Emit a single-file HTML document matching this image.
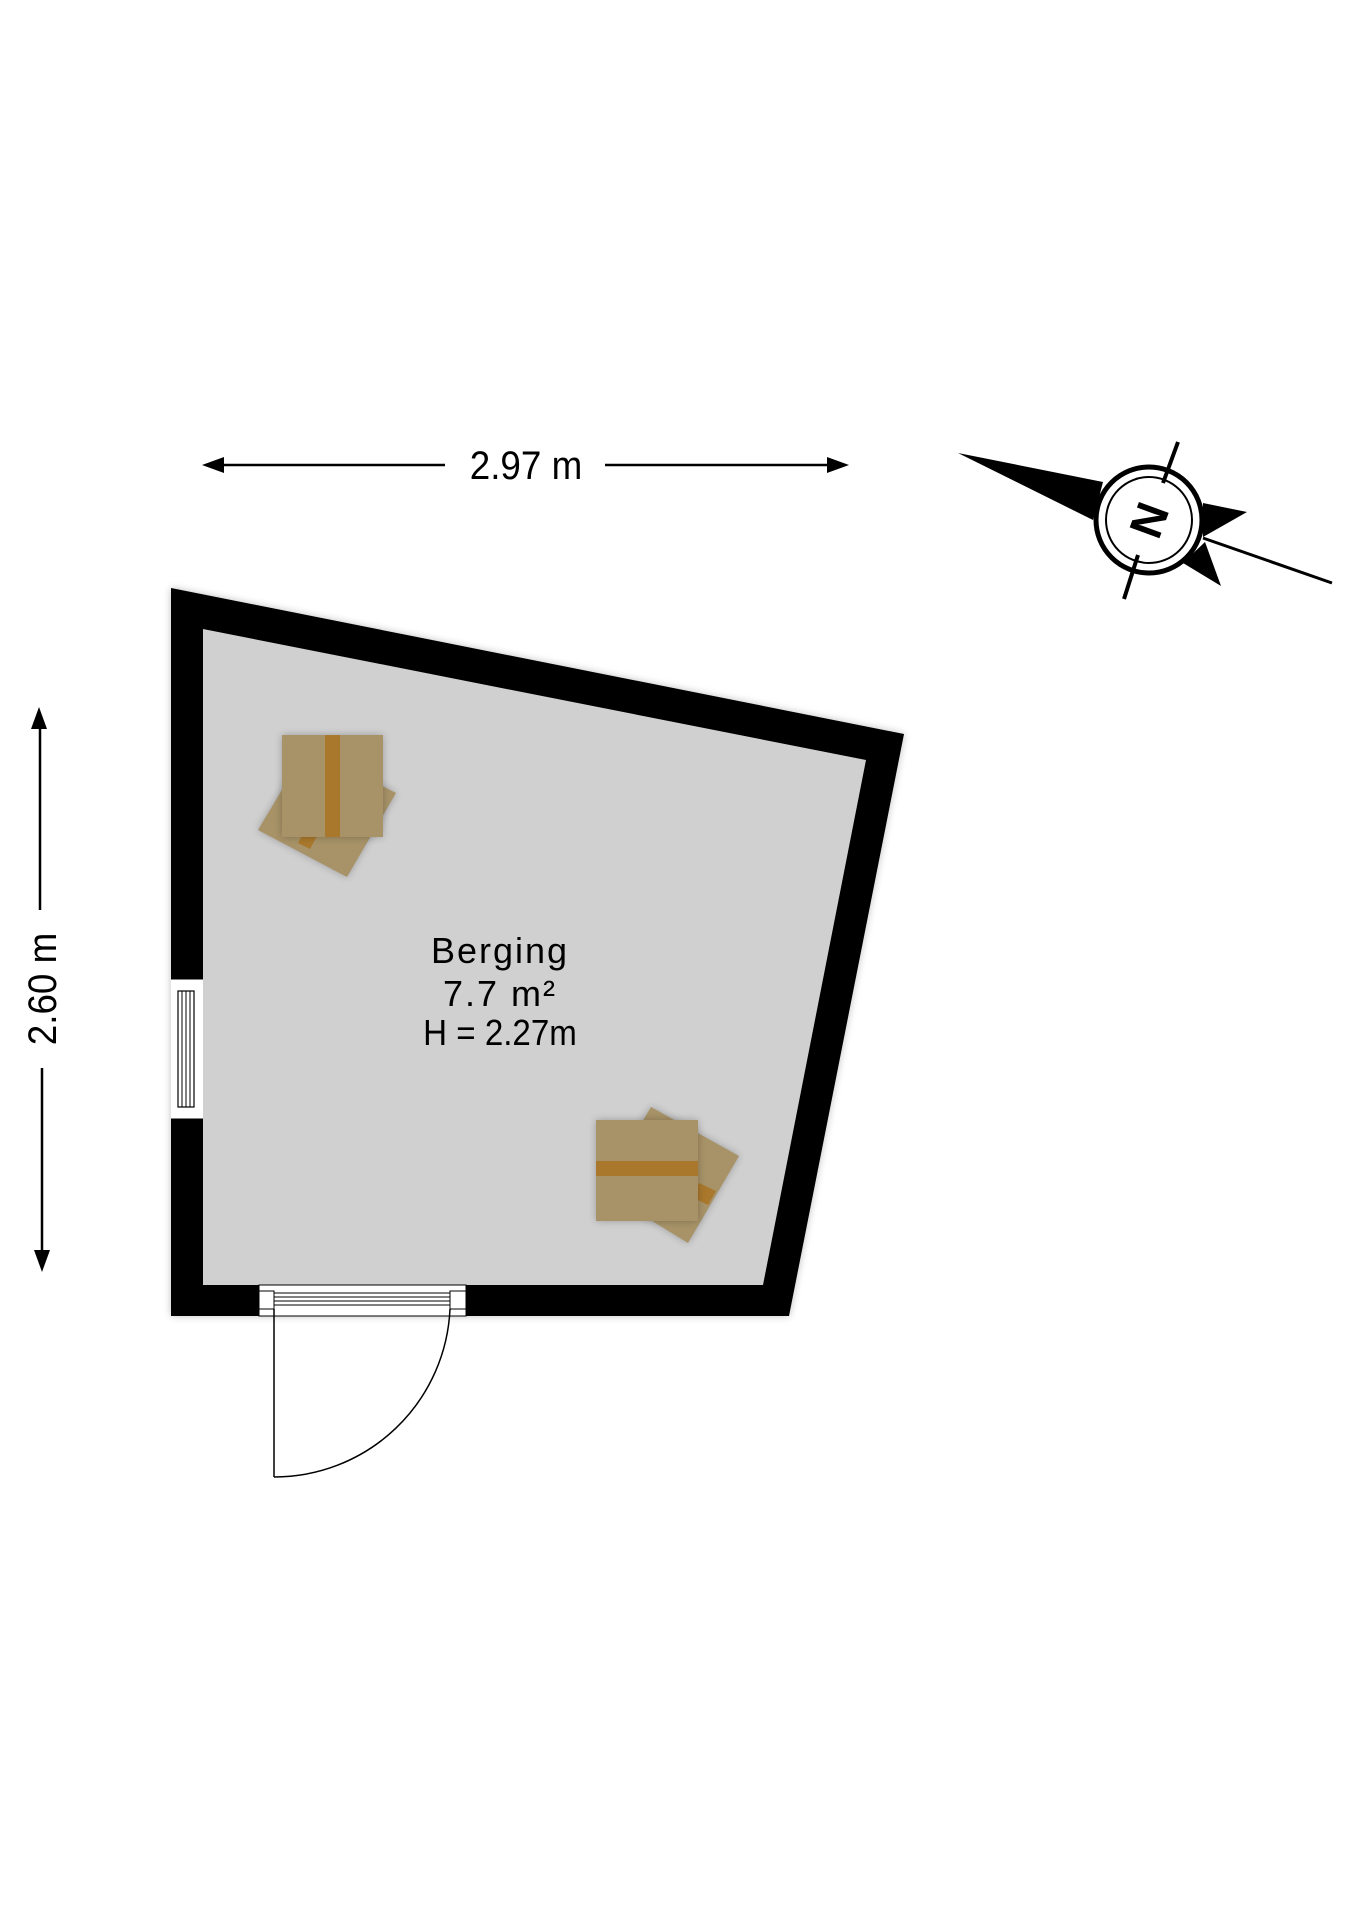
<!DOCTYPE html>
<html><head><style>
html,body{margin:0;padding:0;background:#fff;}
svg{display:block;}
text{font-family:"Liberation Sans",sans-serif;fill:#000;}
</style></head><body>
<svg width="1358" height="1920" viewBox="0 0 1358 1920" xmlns="http://www.w3.org/2000/svg">
<defs>
<filter id="sh" x="-10%" y="-10%" width="120%" height="120%"><feGaussianBlur stdDeviation="4"/></filter>
</defs>
<!-- horizontal dimension -->
<line x1="215" y1="465" x2="445" y2="465" stroke="#000" stroke-width="2.5"/>
<line x1="605" y1="465" x2="835" y2="465" stroke="#000" stroke-width="2.5"/>
<polygon points="202,465 224,457 224,473" fill="#000"/>
<polygon points="849,465 827,457 827,473" fill="#000"/>
<text x="526" y="479" font-size="40" text-anchor="middle" transform="translate(526,0) scale(0.92,1) translate(-526,0)">2.97 m</text>
<!-- vertical dimension -->
<line x1="40" y1="720" x2="40" y2="910" stroke="#000" stroke-width="2.5"/>
<line x1="42" y1="1068" x2="42" y2="1260" stroke="#000" stroke-width="2.5"/>
<polygon points="39,707 31,729 47,729" fill="#000"/>
<polygon points="42,1272 34,1250 50,1250" fill="#000"/>
<text transform="translate(56,989) rotate(-90) scale(0.92,1)" font-size="40" text-anchor="middle">2.60 m</text>
<!-- room -->
<polygon points="171,588 904,734 789,1316 171,1316" fill="#000" filter="url(#sh)" opacity="0.25"/>
<polygon points="171,588 904,734 789,1316 171,1316" fill="#000"/>
<polygon points="203,629 866,760 763,1285 203,1285" fill="#d0d0d0"/>
<!-- window left -->
<rect x="171" y="979" width="32" height="140" fill="#fff"/>
<rect x="178" y="991" width="16" height="116" fill="none" stroke="#000" stroke-width="1.2"/>
<line x1="182" y1="991" x2="182" y2="1107" stroke="#000" stroke-width="1"/>
<line x1="186" y1="991" x2="186" y2="1107" stroke="#000" stroke-width="1"/>
<line x1="190" y1="991" x2="190" y2="1107" stroke="#000" stroke-width="1"/>
<line x1="171" y1="979" x2="203" y2="979" stroke="#000" stroke-width="1"/>
<line x1="171" y1="1119" x2="203" y2="1119" stroke="#000" stroke-width="1"/>
<!-- door -->
<rect x="259" y="1285" width="207" height="31" fill="#fff"/>
<rect x="259" y="1285" width="207" height="31" fill="none" stroke="#000" stroke-width="1"/>
<line x1="274" y1="1293" x2="450" y2="1293" stroke="#000" stroke-width="1"/>
<line x1="274" y1="1297" x2="450" y2="1297" stroke="#000" stroke-width="1"/>
<line x1="274" y1="1301" x2="450" y2="1301" stroke="#000" stroke-width="1"/>
<line x1="274" y1="1305" x2="450" y2="1305" stroke="#000" stroke-width="1"/>
<rect x="259" y="1291" width="15" height="18" fill="none" stroke="#000" stroke-width="1"/>
<rect x="450" y="1291" width="16" height="18" fill="none" stroke="#000" stroke-width="1"/>
<line x1="274" y1="1309" x2="274" y2="1477" stroke="#000" stroke-width="1.5"/>
<path d="M274,1477 A176,176 0 0 0 450,1309" fill="none" stroke="#000" stroke-width="1.5"/>
<!-- box 1 -->
<polygon points="258,830 347,877 396,793 307,748" fill="#000" opacity="0.25" filter="url(#sh)"/>
<polygon points="258,830 347,877 396,793 307,748" fill="#a89368"/>
<polygon points="298,843 310,849 318,834 306,828" fill="#a9782c"/>
<rect x="282" y="735" width="101" height="102" fill="#000" opacity="0.25" filter="url(#sh)"/>
<rect x="282" y="735" width="101" height="102" fill="#a89368"/>
<rect x="325" y="735" width="15" height="102" fill="#a9782c"/>
<!-- box 2 -->
<polygon points="651,1107 739,1156 688,1243 602,1190" fill="#000" opacity="0.25" filter="url(#sh)"/>
<polygon points="651,1107 739,1156 688,1243 602,1190" fill="#a89368"/>
<polygon points="699,1183 716,1191 708,1205 692,1197" fill="#a9782c"/>
<rect x="596" y="1120" width="102" height="101" fill="#000" opacity="0.25" filter="url(#sh)"/>
<rect x="596" y="1120" width="102" height="101" fill="#a89368"/>
<rect x="596" y="1161" width="102" height="15" fill="#a9782c"/>
<!-- labels -->
<text x="500" y="963" font-size="36" text-anchor="middle" letter-spacing="2">Berging</text>
<text x="500" y="1006" font-size="36" text-anchor="middle" letter-spacing="2">7.7 m²</text>
<text transform="translate(500,1045) scale(0.92,1)" font-size="36" text-anchor="middle">H = 2.27m</text>
<!-- compass -->
<polygon points="958,453 1103,482 1093,520" fill="#000"/>
<polygon points="1247,512 1203,503 1203,537" fill="#000"/>
<polygon points="1221,586 1183,563 1205,542" fill="#000"/>
<line x1="1203" y1="538" x2="1332" y2="583" stroke="#000" stroke-width="3"/>
<circle cx="1149" cy="520" r="53" fill="#fff" stroke="#000" stroke-width="5"/>
<circle cx="1149" cy="520" r="43" fill="none" stroke="#000" stroke-width="2"/>
<line x1="1178" y1="442" x2="1163" y2="483" stroke="#000" stroke-width="4"/>
<line x1="1138" y1="555" x2="1124" y2="599" stroke="#000" stroke-width="4"/>
<text transform="translate(1149,520) rotate(-70)" x="0" y="16" font-size="46" font-weight="bold" text-anchor="middle">N</text>
</svg>
</body></html>
